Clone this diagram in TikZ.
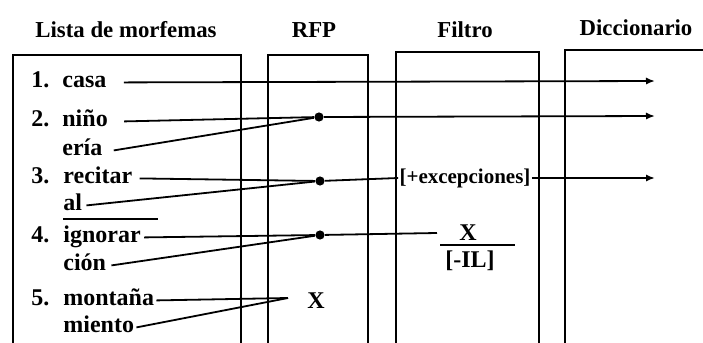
\documentclass[tikz,border=0pt]{standalone}
\usepackage{fontspec}
\setmainfont{Liberation Serif}
\usetikzlibrary{arrows.meta}

\begin{document}
\begin{tikzpicture}[
  x=0.5pt, y=-0.5pt,
  head/.style={anchor=base, inner sep=0pt, font=\bfseries\fontsize{11.4}{14}\selectfont},
  num/.style={anchor=base west, inner sep=0pt, font=\bfseries\fontsize{12}{14}\selectfont},
  morf/.style={anchor=base west, inner sep=0pt, font=\bfseries\fontsize{12}{14}\selectfont},
  col/.style={line width=1.1pt},
  lnk/.style={line width=0.9pt},
  arr/.style={lnk, -{Latex[length=4.5pt, width=3.6pt]}},
  dot/.style={circle, fill, inner sep=0pt, minimum size=4.6pt}
]
\useasboundingbox (0,0) rectangle (703,343);
% column frames, open at the bottom
\draw[col] (13,343) |- (241,55) -- (241,343);
\draw[col] (268,343) |- (368,55) -- (368,343);
\draw[col] (396,343) |- (539,52) -- (539,343);
\draw[col] (565,343) |- (703,50);
% column headings
\node[head] (hlista) at (126,37) {Lista de morfemas};
\node[head] (hrfp)   at (314,37) {RFP};
\node[head] (hfil)   at (465,37) {Filtro};
\node[head] (hdic)   at (636,35) {Diccionario};
% list of morphemes
\node[num]  (n1)      at (31,87)  {1.};
\node[morf] (casa)    at (62,87)  {casa};
\node[num]  (n2)      at (31,126) {2.};
\node[morf] (nino)    at (62,126) {niño};
\node[morf] (eria)    at (62,155) {ería};
\node[num]  (n3)      at (31,183) {3.};
\node[morf] (recitar) at (63,183) {recitar};
\node[morf] (al)      at (63,210) {al};
\node[num]  (n4)      at (31,242) {4.};
\node[morf] (ignorar) at (63,242) {ignorar};
\node[morf] (cion)    at (63,270) {ción};
\node[num]  (n5)      at (31,305) {5.};
\node[morf] (montana) at (63,305) {montaña};
\node[morf] (miento)  at (63,332) {miento};
\draw[line width=0.6pt] ([yshift=-4.5pt]al.base west) -- ++(95,0);
% word formation rules
\node[dot] (d2) at (319,117) {};
\node[dot] (d3) at (320,181) {};
\node[dot] (d4) at (320,235) {};
\coordinate (j5) at (288,298);
\node[morf, anchor=base] (x5) at (316,308) {X};
% filter
\node[font=\bfseries\fontsize{10.5}{12}\selectfont, inner sep=0.5pt] (exc) at (465,178) {[+excepciones]};
\node[morf, anchor=base] (fx)  at (468,240) {X};
\node[morf, anchor=base] (fil) at (470,267) {[-IL]};
\draw[lnk] (440,245) -- (515,245);
% free ends
\coordinate (a1) at (655,81);
\coordinate (a2) at (655,116);
\coordinate (a3) at (655,178);
\coordinate (e4) at (437,233);
% connectors
\draw[arr] ([xshift=8.5pt]casa.mid east) -- (a1);
\draw[lnk] ([xshift=8pt]nino.mid east) -- (d2);
\draw[lnk] ([xshift=5.5pt]eria.mid east) -- (d2);
\draw[lnk] ([xshift=3.5pt]recitar.mid east) -- (d3);
\draw[lnk] ([xshift=2pt]al.mid east) -- (d3);
\draw[lnk] ([xshift=1.5pt]ignorar.mid east) -- (d4);
\draw[lnk] ([xshift=2.5pt]cion.mid east) -- (d4);
\draw[lnk] ([xshift=1pt]montana.mid east) -- (j5);
\draw[lnk] ([xshift=1pt]miento.mid east) -- (j5);
\draw[arr] (d2) -- (a2);
\draw[lnk] (d3) -- (exc.west);
\draw[arr] (exc.east) -- (a3);
\draw[lnk] (d4) -- (e4);
\end{tikzpicture}
\end{document}
